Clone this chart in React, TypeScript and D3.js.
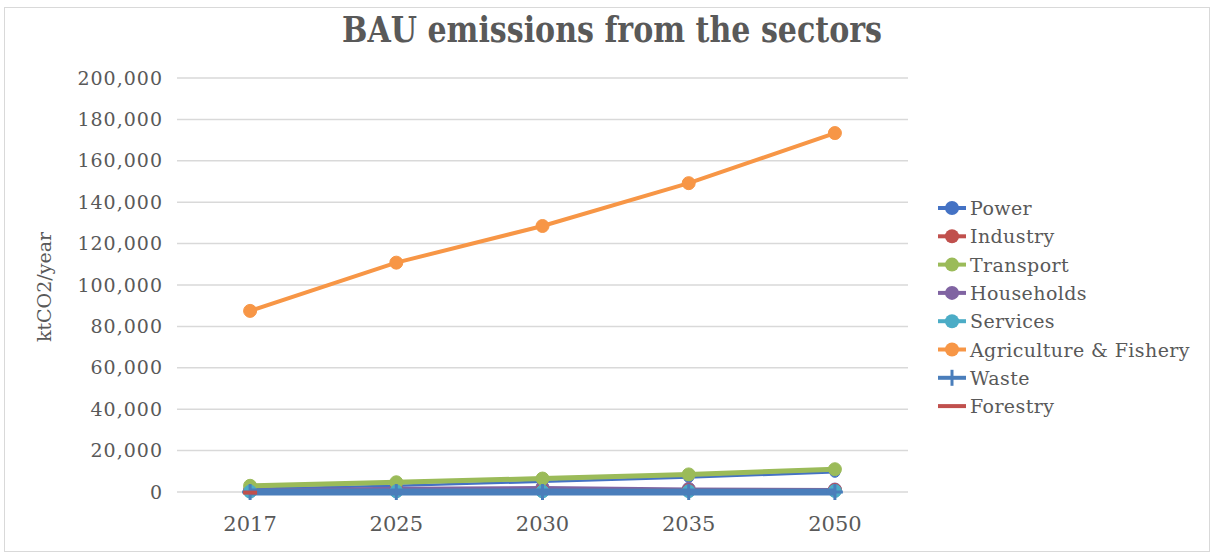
import React from "react";
import * as d3 from "d3";

const years = ["2017", "2025", "2030", "2035", "2050"];
const yTicks = [0, 20000, 40000, 60000, 80000, 100000, 120000, 140000, 160000, 180000, 200000];

const power = [1500, 3000, 5000, 7000, 9500];
const industry = [500, 600, 700, 800, 900];
const transport = [3000, 4700, 6500, 8500, 11000];
const households = [1000, 1800, 2200, 1500, 1200];
const services = [200, 300, 300, 400, 500];
const agriculture = [87500, 110800, 128500, 149200, 173400];
const waste = [0, 0, 0, 0, 0];
const forestry = [-300, null, null, null, null];

const seriesNames = ["Power", "Industry", "Transport", "Households", "Services", "Agriculture & Fishery", "Waste", "Forestry"];
const seriesValues = [power, industry, transport, households, services, agriculture, waste, forestry];
const seriesColors = ["#4472C4", "#C0504D", "#9BBB59", "#8064A2", "#4BACC6", "#F79646", "#4A7EBB", "#C0504D"];
const seriesMarkers = ["circle", "circle", "circle", "circle", "circle", "circle", "plus", "dash"];
const seriesWidths = [2.5, 3, 5, 3, 3, 4, 7, 4];
// drawing order (first drawn at bottom)
const drawOrder = [5, 0, 3, 1, 2, 4, 6, 7];

const W = 1214;
const H = 556;
const plot = { left: 177, right: 908, top: 78, bottom: 492 };
const FONT = "'DejaVu Serif', serif";
const TXT = "#595959";

function Marker({ kind, x, y, color, r }: { kind: string; x: number; y: number; color: string; r: number }) {
  if (kind === "circle") return <circle cx={x} cy={y} r={r} fill={color} stroke={color} strokeWidth={1} />;
  if (kind === "plus")
    return (
      <g stroke={color} strokeWidth={3}>
        <line x1={x - 8} x2={x + 8} y1={y} y2={y} />
        <line x1={x} x2={x} y1={y - 8} y2={y + 8} />
      </g>
    );
  return <line x1={x - 7} x2={x + 7} y1={y} y2={y} stroke={color} strokeWidth={4} />;
}

export default function App() {
  const x = d3.scaleBand<string>().domain(years).range([plot.left, plot.right]);
  const y = d3.scaleLinear().domain([0, 200000]).range([plot.bottom, plot.top]);
  const fmt = d3.format(",");
  const cx = (yr: string) => (x(yr) as number) + x.bandwidth() / 2;

  const legendX = 952;
  const legendY0 = 208;
  const legendStep = 28.3;

  return (
    <svg width={W} height={H} style={{ position: "absolute", left: 0, top: 0, background: "#fff" }}>
      <rect x={4.5} y={7.5} width={1205} height={544} fill="#fff" stroke="#d9d9d9" />
      <text x={612} y={42} textAnchor="middle" fontFamily={FONT} fontWeight="bold" fontSize={35} fill={TXT} textLength={540} lengthAdjust="spacingAndGlyphs">
        BAU emissions from the sectors
      </text>
      {yTicks.map((t) => (
        <g key={t}>
          <line x1={plot.left} x2={plot.right} y1={y(t)} y2={y(t)} stroke="#d9d9d9" strokeWidth={1.5} />
          <text x={163} y={y(t) + 6.5} textAnchor="end" fontFamily={FONT} fontSize={19} letterSpacing={1} fill={TXT}>
            {fmt(t)}
          </text>
        </g>
      ))}
      {years.map((yr) => (
        <text key={yr} x={cx(yr)} y={531} textAnchor="middle" fontFamily={FONT} fontSize={21} fill={TXT}>
          {yr}
        </text>
      ))}
      <text transform="translate(51,287) rotate(-90)" textAnchor="middle" fontFamily={FONT} fontSize={19} fill={TXT}>
        ktCO2/year
      </text>
      {drawOrder.map((i) => {
        const vals = seriesValues[i];
        const pts = years.map((yr, j) => ({ yr, v: vals[j] }));
        const line = d3
          .line<{ yr: string; v: number | null }>()
          .defined((d) => d.v !== null)
          .x((d) => cx(d.yr))
          .y((d) => y(d.v as number));
        return (
          <g key={seriesNames[i]}>
            <path d={line(pts) || ""} fill="none" stroke={seriesColors[i]} strokeWidth={seriesWidths[i]} strokeLinejoin="round" />
            {pts
              .filter((d) => d.v !== null)
              .map((d) => (
                <Marker key={d.yr} kind={seriesMarkers[i]} x={cx(d.yr)} y={y(d.v as number)} color={seriesColors[i]} r={i === 0 ? 5 : 6.5} />
              ))}
          </g>
        );
      })}
      {seriesNames.map((n, i) => {
        const ly = legendY0 + i * legendStep;
        return (
          <g key={n}>
            <line x1={legendX - 14} x2={legendX + 14} y1={ly} y2={ly} stroke={seriesColors[i]} strokeWidth={4} />
            {seriesMarkers[i] === "circle" && <circle cx={legendX} cy={ly} r={7} fill={seriesColors[i]} />}
            {seriesMarkers[i] === "plus" && <line x1={legendX} x2={legendX} y1={ly - 8} y2={ly + 8} stroke={seriesColors[i]} strokeWidth={3} />}
            <text x={970} y={ly + 7} fontFamily={FONT} fontSize={19} letterSpacing={0.4} fill={TXT}>
              {n}
            </text>
          </g>
        );
      })}
    </svg>
  );
}
